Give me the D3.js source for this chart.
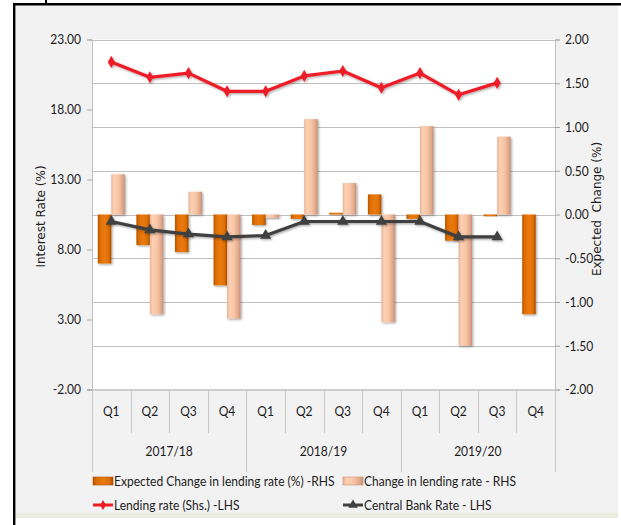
<!DOCTYPE html>
<html>
<head>
<meta charset="utf-8">
<script src="https://cdn.jsdelivr.net/npm/d3@7"></script>
<style>
  html, body { margin: 0; padding: 0; background: #ffffff; }
  svg { display: block; }
  .narrow { font-family: Lato, "Open Sans", sans-serif; }
</style>
</head>
<body>
<div id="chart"></div>
<script>
// Quarterly categories and fiscal years
const quarters = ["Q1", "Q2", "Q3", "Q4", "Q1", "Q2", "Q3", "Q4", "Q1", "Q2", "Q3", "Q4"];
const years = ["2017/18", "2018/19", "2019/20"];

// Right-hand series (percentage points)
const expectedChange = [-0.56, -0.35, -0.43, -0.81, -0.12, -0.05, 0.02, 0.23, -0.05, -0.30, -0.02, -1.14];
const actualChange = [0.46, -1.14, 0.26, -1.19, -0.04, 1.09, 0.36, -1.23, 1.01, -1.50, 0.89, null];

// Left-hand series (percent)
const lendingRate = [21.4, 20.3, 20.6, 19.3, 19.3, 20.4, 20.75, 19.55, 20.6, 19.05, 19.9, null];
const centralBankRate = [10.0, 9.4, 9.1, 8.9, 9.0, 10.0, 10.0, 10.0, 10.0, 8.9, 8.9, null];

// Axis ticks
const leftTicks = [-2, 3, 8, 13, 18, 23];
const rightTicks = [-2, -1.5, -1, -0.5, 0, 0.5, 1, 1.5, 2];

// Legend entries
const legendLabels = [
  "Expected Change in lending rate (%) -RHS",
  "Change in lending rate - RHS",
  "Lending rate (Shs.) -LHS",
  "Central Bank Rate - LHS"
];

const W = 621, H = 525;
const plot = { left: 92, right: 555, top: 39.5, bottom: 389.5 };
const fmt = d => d.toFixed(2);
const ink = "#1c1c1c";

const svg = d3.select("#chart").append("svg")
  .attr("width", W).attr("height", H)
  .attr("viewBox", `0 0 ${W} ${H}`);

const defs = svg.append("defs");

// Bar fills with a bevelled look
const orangeGrad = defs.append("linearGradient").attr("id", "gOrange")
  .attr("x1", "0").attr("x2", "1").attr("y1", "0").attr("y2", "0");
[["0%", "#b55400"], ["18%", "#de6e04"], ["50%", "#ea7a0e"], ["82%", "#de6e04"], ["100%", "#a54c00"]]
  .forEach(([o, c]) => orangeGrad.append("stop").attr("offset", o).attr("stop-color", c));

const pinkGrad = defs.append("linearGradient").attr("id", "gPink")
  .attr("x1", "0").attr("x2", "1").attr("y1", "0").attr("y2", "0");
[["0%", "#e9b396"], ["20%", "#fcd0b2"], ["55%", "#f7c4a4"], ["85%", "#dfa78a"], ["100%", "#c48f75"]]
  .forEach(([o, c]) => pinkGrad.append("stop").attr("offset", o).attr("stop-color", c));

const shadow = defs.append("filter").attr("id", "shadow")
  .attr("x", "-30%").attr("y", "-30%").attr("width", "160%").attr("height", "160%");
shadow.append("feDropShadow").attr("dx", 1.2).attr("dy", 1.2).attr("stdDeviation", 0.9)
  .attr("flood-color", "#000").attr("flood-opacity", 0.35);

// Outer frame
svg.append("rect").attr("x", 15).attr("y", 5).attr("width", 603).attr("height", 510).attr("fill", "#f2f2f2");
svg.append("rect").attr("x", 15).attr("y", 513).attr("width", 603).attr("height", 5).attr("fill", "#ebebe0");
svg.append("line").attr("x1", 14.2).attr("x2", 14.2).attr("y1", 3).attr("y2", H)
  .attr("stroke", "#000").attr("stroke-width", 2.4);
svg.append("line").attr("x1", 13).attr("x2", W).attr("y1", 4.2).attr("y2", 4.2)
  .attr("stroke", "#000").attr("stroke-width", 2.4);
svg.append("line").attr("x1", 46).attr("x2", 46).attr("y1", 0).attr("y2", 4)
  .attr("stroke", "#000").attr("stroke-width", 2);

// Plot area
svg.append("rect").attr("x", plot.left).attr("y", plot.top)
  .attr("width", plot.right - plot.left).attr("height", plot.bottom - plot.top)
  .attr("fill", "#ffffff");

// Scales
const x = d3.scaleBand().domain(d3.range(quarters.length)).range([plot.left, plot.right]).padding(0);
const xs = d3.scaleBand().domain(["expected", "actual"]).range([0, x.bandwidth()]).paddingInner(0).paddingOuter(0.43);
const yL = d3.scaleLinear().domain([-2, 23]).range([plot.bottom, plot.top]);
const yR = d3.scaleLinear().domain([-2, 2]).range([plot.bottom, plot.top]);

// Gridlines from the right axis
svg.append("g").selectAll("line").data(rightTicks.filter(d => d > -2)).join("line")
  .attr("x1", plot.left).attr("x2", plot.right)
  .attr("y1", d => Math.round(yR(d)) + 0.5).attr("y2", d => Math.round(yR(d)) + 0.5)
  .attr("stroke", "#c0c0c0").attr("stroke-width", 1);

// Left axis
const axisL = svg.append("g").attr("transform", `translate(${plot.left},0)`)
  .call(d3.axisLeft(yL).tickValues(leftTicks).tickFormat(fmt).tickSize(5).tickPadding(6));
axisL.select(".domain").attr("stroke", "#bfbfbf");
axisL.selectAll(".tick line").attr("stroke", "#a6a6a6");

// Right axis
const axisR = svg.append("g").attr("transform", `translate(${plot.right},0)`)
  .call(d3.axisRight(yR).tickValues(rightTicks).tickFormat(fmt).tickSize(5).tickPadding(5));
axisR.select(".domain").attr("stroke", "#bfbfbf");
axisR.selectAll(".tick line").attr("stroke", "#a6a6a6");

svg.selectAll(".tick text")
  .attr("class", "narrow").attr("font-size", 14).attr("fill", ink);

// Axis titles
svg.append("text")
  .attr("transform", `translate(45,${(plot.top + plot.bottom) / 2 + 2}) rotate(-90)`)
  .attr("text-anchor", "middle")
  .attr("font-family", "DejaVu Sans, sans-serif").attr("font-size", 12).attr("fill", ink)
  .text("Interest Rate (%)");
svg.append("text")
  .attr("transform", `translate(601,209) rotate(-90)`)
  .attr("text-anchor", "middle")
  .attr("font-family", "DejaVu Sans, sans-serif").attr("font-size", 12).attr("fill", ink)
  .style("white-space", "pre")
  .text("Expected  Change (%)");

// Category axis (two levels)
const catAxis = svg.append("g");
catAxis.append("line").attr("x1", plot.left - 5).attr("x2", plot.right)
  .attr("y1", plot.bottom + 0.5).attr("y2", plot.bottom + 0.5).attr("stroke", "#a6a6a6");
const bounds = d3.range(quarters.length + 1).map(i => i === quarters.length ? plot.right : x(i));
catAxis.selectAll("line.sep").data(bounds).join("line").attr("class", "sep")
  .attr("x1", d => Math.round(d) + 0.5).attr("x2", d => Math.round(d) + 0.5)
  .attr("y1", plot.bottom)
  .attr("y2", (d, i) => i % 4 === 0 ? 472 : 433)
  .attr("stroke", "#c8c8c8");
catAxis.selectAll("text.q").data(quarters).join("text").attr("class", "q narrow")
  .attr("x", (d, i) => x(i) + x.bandwidth() / 2).attr("y", 416)
  .attr("text-anchor", "middle").attr("font-size", 14).attr("fill", ink)
  .text(d => d);
catAxis.selectAll("text.yr").data(years).join("text").attr("class", "yr narrow")
  .attr("x", (d, i) => (x(i * 4) + bounds[i * 4 + 4]) / 2).attr("y", 456)
  .attr("text-anchor", "middle").attr("font-size", 14).attr("fill", ink)
  .text(d => d);

// Bars
const barG = svg.append("g");
const barRect = (sel, key, values, fill) => {
  sel.selectAll(`rect.${key}`)
    .data(values.map((v, i) => ({ v, i })).filter(d => d.v !== null))
    .join("rect").attr("class", key)
    .attr("x", d => x(d.i) + xs(key))
    .attr("width", xs.bandwidth())
    .attr("y", d => Math.min(yR(d.v), yR(0)))
    .attr("height", d => Math.abs(yR(d.v) - yR(0)))
    .attr("fill", fill)
    .attr("filter", "url(#shadow)");
};
barRect(barG, "expected", expectedChange, "url(#gOrange)");
barRect(barG, "actual", actualChange, "url(#gPink)");

// Lines
const cx = i => x(i) + x.bandwidth() / 2;
const lineL = d3.line().defined(d => d.v !== null).x(d => cx(d.i)).y(d => yL(d.v));

const drawSeries = (values, color, symbol, size) => {
  const pts = values.map((v, i) => ({ v, i }));
  const g = svg.append("g").attr("filter", "url(#shadow)");
  g.append("path").datum(pts).attr("d", lineL)
    .attr("fill", "none").attr("stroke", color).attr("stroke-width", 3.2)
    .attr("stroke-linejoin", "round");
  g.selectAll("path.mk").data(pts.filter(d => d.v !== null)).join("path").attr("class", "mk")
    .attr("transform", d => `translate(${cx(d.i)},${yL(d.v)})`)
    .attr("d", d3.symbol().type(symbol).size(size))
    .attr("fill", color);
};
drawSeries(lendingRate, "#ee1c25", d3.symbolDiamond, 42);
drawSeries(centralBankRate, "#404040", d3.symbolTriangle, 55);

// Legend
const leg = svg.append("g");
const legPos = [[93, 481], [343, 481], [93, 505], [343, 505]];
leg.append("rect").attr("x", legPos[0][0]).attr("y", legPos[0][1] - 4).attr("width", 20).attr("height", 8)
  .attr("fill", "url(#gOrange)").attr("stroke", "#a84e00").attr("stroke-width", 0.6);
leg.append("rect").attr("x", legPos[1][0]).attr("y", legPos[1][1] - 4).attr("width", 20).attr("height", 8)
  .attr("fill", "url(#gPink)").attr("stroke", "#c48f75").attr("stroke-width", 0.6);
[[2, "#ee1c25", d3.symbolDiamond, 30], [3, "#404040", d3.symbolTriangle, 40]].forEach(([k, c, s, sz]) => {
  leg.append("line").attr("x1", legPos[k][0]).attr("x2", legPos[k][0] + 20)
    .attr("y1", legPos[k][1]).attr("y2", legPos[k][1]).attr("stroke", c).attr("stroke-width", 3);
  leg.append("path").attr("transform", `translate(${legPos[k][0] + 10},${legPos[k][1]})`)
    .attr("d", d3.symbol().type(s).size(sz)).attr("fill", c);
});
leg.selectAll("text").data(legendLabels).join("text").attr("class", "narrow")
  .attr("x", (d, i) => legPos[i][0] + 21).attr("y", (d, i) => legPos[i][1] + 5)
  .attr("font-size", 14).attr("fill", ink)
  .text(d => d);

// Condensed lettering: squeeze each label horizontally while keeping its height
svg.selectAll("text.narrow").each(function () {
  const w = this.getComputedTextLength();
  d3.select(this).attr("textLength", (w * 0.86).toFixed(1)).attr("lengthAdjust", "spacingAndGlyphs");
});
</script>
</body>
</html>
